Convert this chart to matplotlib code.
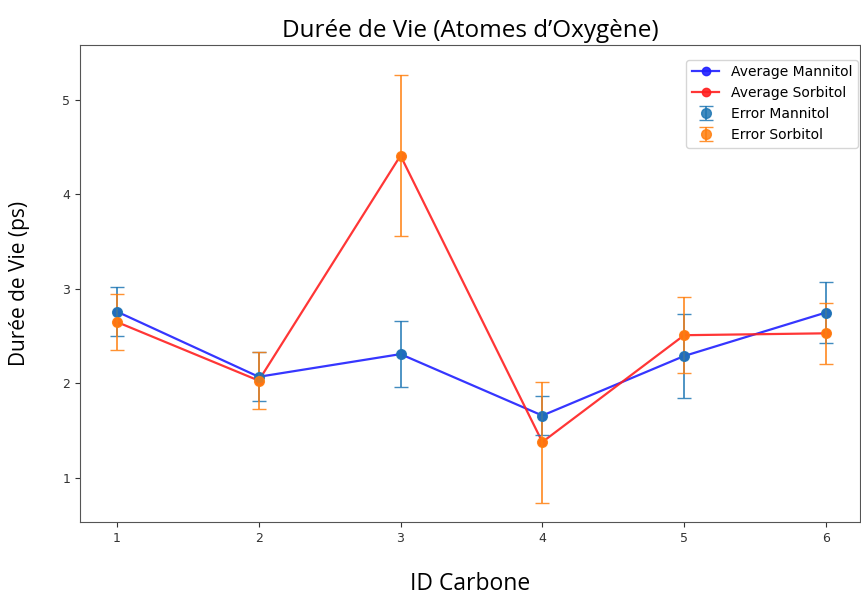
import matplotlib
matplotlib.use("Agg")
import matplotlib.pyplot as plt
import numpy as np

carbon_ids = [1, 2, 3, 4, 5, 6]
mannitol_avg = [2.76, 2.07, 2.31, 1.66, 2.29, 2.75]
mannitol_err = [0.26, 0.26, 0.35, 0.21, 0.44, 0.32]
sorbitol_avg = [2.65, 2.03, 4.41, 1.38, 2.51, 2.53]
sorbitol_err = [0.30, 0.30, 0.85, 0.64, 0.40, 0.32]

fig = plt.figure(figsize=(8.61, 5.97), dpi=100)
ax = fig.add_axes([80/861, 75/597, 780/861, 477/597])

ax.plot(carbon_ids, mannitol_avg, '-o', color='#2020ff', lw=1.6, ms=6, label='Average Mannitol', alpha=0.9)
ax.plot(carbon_ids, sorbitol_avg, '-o', color='#ff2020', lw=1.6, ms=6, label='Average Sorbitol', alpha=0.9)
ax.errorbar(carbon_ids, mannitol_avg, yerr=mannitol_err, fmt='o', color='#1f77b4', ms=7,
            capsize=5, elinewidth=1.3, alpha=0.85, label='Error Mannitol')
ax.errorbar(carbon_ids, sorbitol_avg, yerr=sorbitol_err, fmt='o', color='#ff7f0e', ms=7,
            capsize=5, elinewidth=1.3, alpha=0.85, label='Error Sorbitol')

ax.set_xlim(0.74, 6.24)
ax.set_ylim(0.534, 5.58)
ax.set_xticks(carbon_ids)
ax.set_yticks([1, 2, 3, 4, 5])
ax.tick_params(labelsize=9, colors='#333333')
for s in ax.spines.values():
    s.set_color('#555555')

ax.set_title('Durée de Vie (Atomes d’Oxygène)', fontfamily='Open Sans', fontsize=17.5, pad=6)
ax.set_xlabel('ID Carbone', fontfamily='Open Sans', fontsize=16.5)
ax.set_ylabel('Durée de Vie (ps)', fontfamily='Open Sans', fontsize=15)
ax.xaxis.set_label_coords(0.5, -0.105)
ax.yaxis.set_label_coords(-0.064, 0.5)

ax.legend(loc='upper right', fontsize=10, borderaxespad=0, bbox_to_anchor=(0.997, 0.969))

fig.savefig('out.png', dpi=100)
